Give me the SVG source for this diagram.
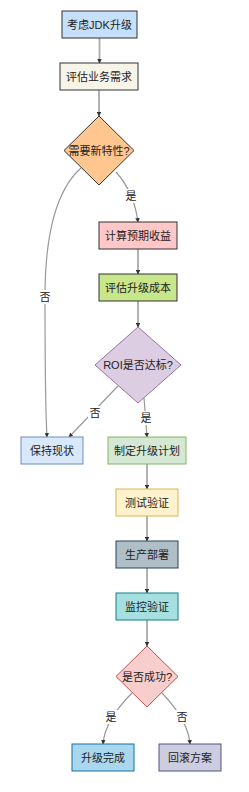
<svg xmlns="http://www.w3.org/2000/svg" width="249" height="792" viewBox="0 0 249 792">
<style>
text{font-family:"Liberation Sans","Noto Sans CJK SC",sans-serif;font-size:11px;fill:#222;text-anchor:middle;dominant-baseline:central}
.e{fill:none;stroke:#999;stroke-width:1.2}
.s{fill:none;stroke:#aaa;stroke-width:1.8}
.lb{fill:#fff}
</style>
<defs>
<marker id="a" viewBox="0 0 8 8" refX="7" refY="4" markerWidth="4.5" markerHeight="4.5" orient="auto" markerUnits="userSpaceOnUse">
<path d="M0,0L8,4L0,8z" fill="#333"/>
</marker>
</defs>
<rect width="249" height="792" fill="#fff"/>
<g id="connectors">
<path class="s" d="M99.5,38V63" marker-end="url(#a)"/>
<path class="s" d="M99,90V116" marker-end="url(#a)"/>
<path class="e" d="M116,172Q134,192 138,222" marker-end="url(#a)"/>
<path class="e" d="M81,168Q45,200 45,297Q45,400 47,437" marker-end="url(#a)"/>
<path class="s" d="M138,249V274" marker-end="url(#a)"/>
<path class="s" d="M138,301V327" marker-end="url(#a)"/>
<path class="e" d="M118,386L69,437" marker-end="url(#a)"/>
<path class="e" d="M144,398L147,437" marker-end="url(#a)"/>
<path class="s" d="M147,464V489" marker-end="url(#a)"/>
<path class="s" d="M147,516V541" marker-end="url(#a)"/>
<path class="s" d="M147,568V593" marker-end="url(#a)"/>
<path class="s" d="M147,620V646" marker-end="url(#a)"/>
<path class="e" d="M132,693Q105,720 103,744" marker-end="url(#a)"/>
<path class="e" d="M162,693Q188,720 190,744" marker-end="url(#a)"/>
<rect class="lb" x="124" y="189" width="14" height="14"/><text x="131" y="196">是</text>
<rect class="lb" x="38" y="290" width="14" height="14"/><text x="45" y="297">否</text>
<rect class="lb" x="88" y="406" width="14" height="14"/><text x="95" y="413">否</text>
<rect class="lb" x="139" y="411" width="14" height="14"/><text x="146" y="418">是</text>
<rect class="lb" x="104" y="710" width="14" height="14"/><text x="111" y="717">是</text>
<rect class="lb" x="175" y="710" width="14" height="14"/><text x="182" y="717">否</text>
</g>
<g id="n1"><rect x="62" y="11" width="75" height="27" fill="#c6e0fb" stroke="#333"/><text x="99.5" y="24.5">考虑JDK升级</text></g>
<g id="n2"><rect x="60" y="63" width="78" height="27" fill="#f7f5ea" stroke="#333"/><text x="99" y="76.5">评估业务需求</text></g>
<g id="n3"><path d="M99,116L134,150.5L99,185L64,150.5z" fill="#ffc690" stroke="#333"/><text x="99" y="150.5">需要新特性?</text></g>
<g id="n4"><rect x="99" y="222" width="78" height="27" fill="#ffc7c7" stroke="#333"/><text x="138" y="235.5">计算预期收益</text></g>
<g id="n5"><rect x="99" y="274" width="78" height="27" fill="#c8e68a" stroke="#333"/><text x="138" y="287.5">评估升级成本</text></g>
<g id="n6"><path d="M138,327L181,365L138,403L95,365z" fill="#dccde3" stroke="#9673a6"/><text x="138" y="365">ROI是否达标?</text></g>
<g id="n7"><rect x="21" y="437" width="62" height="27" fill="#dae8fc" stroke="#6c8ebf"/><text x="52" y="450.5">保持现状</text></g>
<g id="n8"><rect x="108" y="437" width="78" height="27" fill="#d5e8d4" stroke="#82b366"/><text x="147" y="450.5">制定升级计划</text></g>
<g id="n9"><rect x="116" y="489" width="62" height="27" fill="#fff2cc" stroke="#d6b656"/><text x="147" y="502.5">测试验证</text></g>
<g id="n10"><rect x="116" y="541" width="62" height="27" fill="#b0bec8" stroke="#23445d"/><text x="147" y="554.5">生产部署</text></g>
<g id="n11"><rect x="116" y="593" width="62" height="27" fill="#a6dfe0" stroke="#0e8088"/><text x="147" y="606.5">监控验证</text></g>
<g id="n12"><path d="M147,646L178,676.5L147,707L116,676.5z" fill="#f8cecc" stroke="#b85450"/><text x="147" y="676.5">是否成功?</text></g>
<g id="n13"><rect x="72" y="744" width="62" height="27" fill="#a9d8ee" stroke="#10739e"/><text x="103" y="757.5">升级完成</text></g>
<g id="n14"><rect x="159" y="744" width="62" height="27" fill="#cccde0" stroke="#56517e"/><text x="190" y="757.5">回滚方案</text></g>
</svg>
